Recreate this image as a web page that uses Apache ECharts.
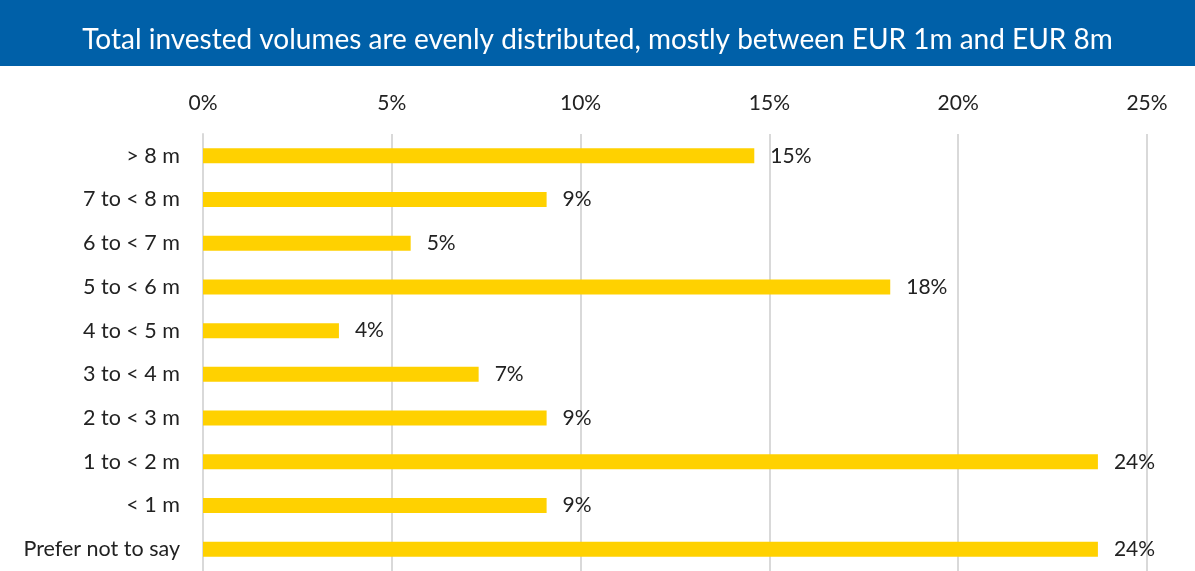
<!DOCTYPE html>
<html><head><meta charset="utf-8">
<script src="https://cdn.jsdelivr.net/npm/echarts@6/dist/echarts.min.js"></script>
<style>html,body{margin:0;padding:0;background:#fff}#c{width:1195px;height:571px}</style>
</head><body><div id="c"></div>
<script>
const titleText = 'Total invested volumes are evenly distributed, mostly between EUR 1m and EUR 8m';
const categories = ['> 8 m','7 to < 8 m','6 to < 7 m','5 to < 6 m','4 to < 5 m','3 to < 4 m','2 to < 3 m','1 to < 2 m','< 1 m','Prefer not to say'];
const values = [14.6, 9.1, 5.5, 18.2, 3.6, 7.3, 9.1, 23.7, 9.1, 23.7];
const valueLabels = ['15%','9%','5%','18%','4%','7%','9%','24%','9%','24%'];
const tickValues = [0,5,10,15,20,25];

const FONT = 'Lato';
const chart = echarts.init(document.getElementById('c'), null, {renderer:'canvas'});
chart.setOption({
  animation:false,
  graphic:[
    {type:'rect', left:0, top:0, shape:{width:1195, height:66}, style:{fill:'#0060A8'}},
    {type:'text', left:'center', top:26, style:{text:titleText, fill:'#fff', font:'28px '+FONT}}
  ],
  grid:{left:203, right:48, top:134, bottom:-2, containLabel:false},
  xAxis:{type:'value', position:'top', min:0, max:25, interval:5,
    axisLine:{show:false}, axisTick:{show:false},
    splitLine:{lineStyle:{color:'#d9d9d9', width:2}},
    axisLabel:{formatter:v=>v+'%', color:'#222', fontSize:21, fontFamily:FONT, margin:20}
  },
  yAxis:{type:'category', data:categories, inverse:true,
    axisLine:{show:true, lineStyle:{color:'#d9d9d9', width:2}}, axisTick:{show:false},
    axisLabel:{color:'#222', fontSize:21.5, fontFamily:FONT, margin:23}
  },
  series:[{type:'bar', data:values, barWidth:15, itemStyle:{color:'#FFD100'},
    label:{show:true, position:'right', distance:16, color:'#222', fontSize:21, fontFamily:FONT,
      formatter:p=>valueLabels[p.dataIndex]}
  }]
});
</script></body></html>
